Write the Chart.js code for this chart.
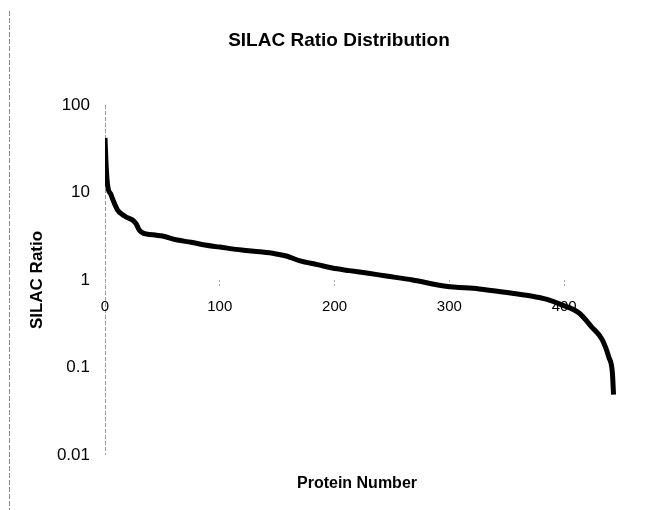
<!DOCTYPE html>
<html>
<head>
<meta charset="utf-8">
<script src="https://cdn.jsdelivr.net/npm/chart.js@4/dist/chart.umd.min.js"></script>
<style>
  body { margin: 0; background: #fff; }
</style>
</head>
<body>
<canvas id="silacChart" width="656" height="510"></canvas>
<script>
// values (protein rank -> SILAC ratio)
const proteinNumber = [0, 1, 2, 3, 5, 7, 11, 15, 19, 24, 27, 30, 33, 36, 45, 50, 63, 75, 87, 100,
  119, 135, 148, 158, 170, 185, 198, 213, 228, 245, 268, 297, 326, 350, 370, 385, 398, 413,
  424, 433, 439, 442, 443];
const silacRatio = [42, 20, 13, 10.7, 9.6, 8.2, 6.3, 5.6, 5.2, 4.85, 4.4, 3.7, 3.45, 3.36, 3.25, 3.18, 2.86, 2.7, 2.51, 2.38,
  2.2, 2.1, 2.0, 1.88, 1.65, 1.5, 1.37, 1.28, 1.2, 1.11, 1.0, 0.85, 0.79, 0.72, 0.66, 0.6, 0.52, 0.42,
  0.29, 0.21, 0.13, 0.087, 0.049];
const xTicks = [0, 100, 200, 300, 400];
const yTicks = [0.01, 0.1, 1, 10, 100];

const points = proteinNumber.map((x, i) => ({ x: x, y: silacRatio[i] }));

// dashed frame edge on the left, and the x axis title (it sits below the plot,
// not under the axis line which crosses at y = 1)
const extras = {
  id: 'extras',
  afterDraw(chart) {
    const c = chart.ctx;
    c.save();
    c.strokeStyle = '#888';
    c.lineWidth = 1;
    c.setLineDash([5, 2]);
    c.beginPath();
    c.moveTo(9.5, 11);
    c.lineTo(9.5, 510);
    c.stroke();
    c.setLineDash([]);
    c.fillStyle = '#000';
    c.font = 'bold 16px "Liberation Sans", Arial';
    c.textAlign = 'center';
    c.textBaseline = 'middle';
    c.fillText('Protein Number', 357, 484);
    c.restore();
  }
};

const ctx = document.getElementById('silacChart').getContext('2d');

new Chart(ctx, {
  type: 'line',
  data: {
    datasets: [{
      data: points,
      borderColor: '#000',
      borderWidth: 5,
      pointRadius: 0,
      cubicInterpolationMode: 'monotone',
      fill: false
    }]
  },
  options: {
    responsive: false,
    animation: false,
    layout: { padding: { left: 22, right: 0, top: 0, bottom: 55 } },
    scales: {
      x: {
        type: 'linear',
        position: { y: 1 },
        min: 0,
        max: 480,
        afterBuildTicks: s => { s.ticks = xTicks.map(v => ({ value: v })); },
        afterFit: s => { s.height = 0; },
        ticks: {
          color: '#000',
          padding: 12,
          font: { family: 'Liberation Sans, Arial', size: 15 }
        },
        grid: {
          color: c => (c.tick && c.tick.value === 0 ? '#999' : 'rgba(0,0,0,0)'),
          tickColor: '#aaa',
          tickLength: 6,
          tickBorderDash: [2, 2]
        },
        border: { display: false, dash: [4, 2] }
      },
      y: {
        type: 'logarithmic',
        position: 'left',
        min: 0.01,
        max: 100,
        afterBuildTicks: s => { s.ticks = yTicks.map(v => ({ value: v })); },
        afterFit: s => { s.width = 83; },
        ticks: {
          color: '#000',
          padding: 7,
          callback: v => String(v),
          font: { family: 'Liberation Sans, Arial', size: 17 }
        },
        grid: { display: false },
        border: { display: false },
        title: {
          display: true,
          text: 'SILAC Ratio',
          color: '#000',
          padding: { top: 5, bottom: 0 },
          font: { family: 'Liberation Sans, Arial', size: 17, weight: 'bold' }
        }
      }
    },
    plugins: {
      legend: { display: false },
      tooltip: { enabled: false },
      title: {
        display: true,
        text: 'SILAC Ratio Distribution',
        color: '#000',
        padding: { top: 29.6, bottom: 52.6 },
        font: { family: 'Liberation Sans, Arial', size: 19, weight: 'bold' }
      }
    }
  },
  plugins: [extras]
});
</script>
</body>
</html>
